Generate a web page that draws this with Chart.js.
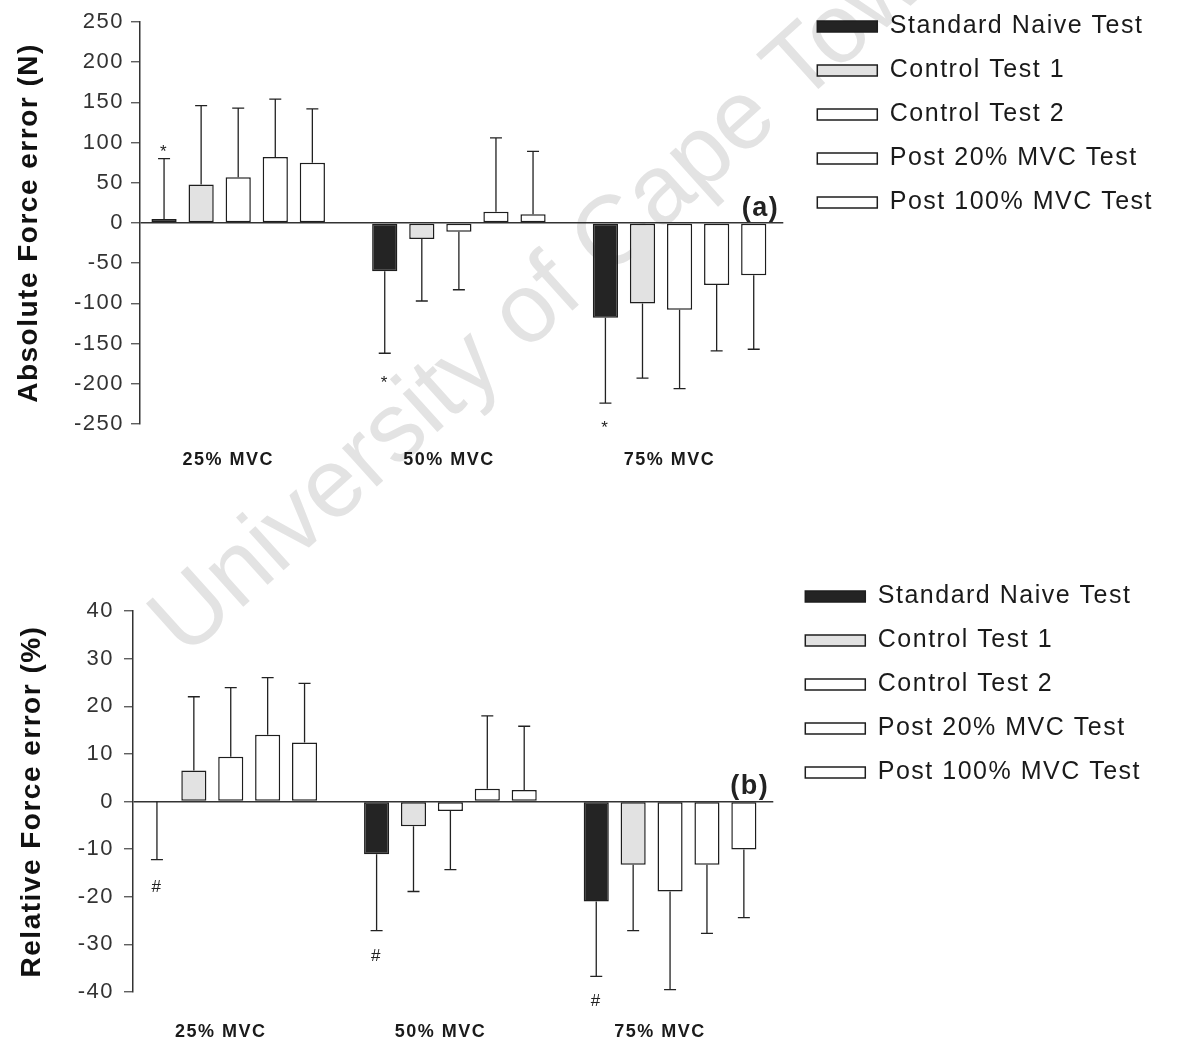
<!DOCTYPE html>
<html>
<head>
<meta charset="utf-8">
<script src="https://cdn.jsdelivr.net/npm/chart.js@4"></script>
<style>
  body { margin: 0; background: #fff; width: 1185px; height: 1037px; position: relative; overflow: hidden; }
  #wm {
    position: absolute; left: 130px; top: 597px;
    font-family: "Liberation Sans", Arial, sans-serif; font-size: 98px; line-height: 98px;
    color: #e3e3e3; white-space: nowrap;
    transform-origin: 0 0; transform: rotate(-42deg);
  }
  canvas { position: absolute; left: 0; }
  #chartA { top: -5px; }
  #chartB { top: 565px; }
</style>
</head>
<body>
<div id="wm">University of Cape Town</div>
<canvas id="chartA" width="1185" height="484"></canvas>
<canvas id="chartB" width="1185" height="472"></canvas>
<script>
const categories = ['25% MVC', '50% MVC', '75% MVC'];
const testNames = ['Standard Naive Test', 'Control Test 1', 'Control Test 2', 'Post 20% MVC Test', 'Post 100% MVC Test'];

// (a) absolute force error (N), mean per test
const absNaive = [5, -60, -118];
const absControl1 = [48, -20, -100];
const absControl2 = [57, -11, -108];
const absPost20 = [82, 14, -77];
const absPost100 = [75, 11, -65];
// (a) SD, drawn one-sided away from zero
const absNaiveSD = [75, 102, 106];
const absControl1SD = [98, 77, 93];
const absControl2SD = [86, 72, 98];
const absPost20SD = [72, 92, 82];
const absPost100SD = [67, 78, 92];

// (b) relative force error (%)
const relNaive = [0, -11.1, -21];
const relControl1 = [6.5, -5.2, -13.3];
const relControl2 = [9.4, -2, -18.9];
const relPost20 = [14, 2.7, -13.3];
const relPost100 = [12.4, 2.4, -10.1];
const relNaiveSD = [12.2, 16, 15.7];
const relControl1SD = [15.5, 13.7, 13.8];
const relControl2SD = [14.5, 12.3, 20.6];
const relPost20SD = [12, 15.3, 14.4];
const relPost100SD = [12.4, 13.4, 14.3];

// significance marks next to the naive bars (value where the symbol sits)
const starY = [88, -199, -255];
const hashY = [-18, -32.5, -42];

const fills = ['#242424', '#e2e2e2', '#ffffff', '#ffffff', '#ffffff'];
const FONT = '"Liberation Sans", Arial, Helvetica, sans-serif';

Chart.defaults.font.family = FONT;
Chart.defaults.color = '#222';

function buildDatasets(means, sds) {
  return means.map((vals, k) => ({
    label: testNames[k],
    data: vals.map((v, i) => ({ x: i, y: v })),
    sd: sds[k],
    backgroundColor: fills[k],
    borderColor: '#1e1e1e',
    borderWidth: 1.5,
    borderSkipped: false,
    categoryPercentage: 0.84,
    barPercentage: 0.68
  }));
}

// text in the figure is slightly letter-spaced
const spacing = {
  id: 'spacing',
  beforeUpdate(chart) { chart.ctx.letterSpacing = '1.5px'; },
  beforeDraw(chart) { chart.ctx.letterSpacing = '1.5px'; }
};

const errorBars = {
  id: 'errorBars',
  afterDatasetsDraw(chart) {
    const ctx = chart.ctx;
    const y = chart.scales.y;
    ctx.save();
    ctx.strokeStyle = '#222';
    ctx.lineWidth = 1.3;
    chart.data.datasets.forEach((ds, di) => {
      chart.getDatasetMeta(di).data.forEach((bar, i) => {
        const v = ds.data[i].y;
        const end = v > 0 ? v + ds.sd[i] : v - ds.sd[i];
        const yEnd = y.getPixelForValue(end);
        ctx.beginPath();
        ctx.moveTo(bar.x, bar.y);
        ctx.lineTo(bar.x, yEnd);
        ctx.moveTo(bar.x - 6, yEnd);
        ctx.lineTo(bar.x + 6, yEnd);
        ctx.stroke();
      });
    });
    ctx.restore();
  }
};

const marks = {
  id: 'marks',
  afterDraw(chart, args, o) {
    const { ctx, chartArea, scales: { y } } = chart;
    const meta = chart.getDatasetMeta(0);
    ctx.save();
    ctx.fillStyle = '#222';
    ctx.textAlign = 'center';
    ctx.textBaseline = 'middle';
    ctx.font = '17px ' + FONT;
    o.at.forEach((v, i) => ctx.fillText(o.sign, meta.data[i].x, y.getPixelForValue(v)));
    ctx.font = 'bold 27px ' + FONT;
    ctx.textAlign = 'right';
    ctx.textBaseline = 'bottom';
    ctx.fillText(o.tag, chartArea.right - 4, y.getPixelForValue(0) - 1);
    ctx.restore();
  }
};

function makeChart(id, p) {
  return new Chart(document.getElementById(id), {
    type: 'bar',
    data: { datasets: buildDatasets(p.means, p.sds) },
    options: {
      responsive: false,
      animation: false,
      events: [],
      layout: { padding: { left: 0, right: p.padRight, top: 0, bottom: 0 } },
      scales: {
        x: {
          type: 'linear', min: -0.445, max: 2.47, offset: false,
          afterBuildTicks: s => { s.ticks = categories.map((c, i) => ({ value: i })); },
          afterFit: s => { s.height = p.xHeight; },
          grid: { display: false },
          border: { display: false },
          ticks: {
            callback: v => categories[v],
            font: { size: 18, weight: 'bold' }, color: '#1a1a1a',
            padding: p.xPad, labelOffset: -10, maxRotation: 0, autoSkip: false
          }
        },
        top: {
          type: 'linear', position: 'top',
          afterFit: s => { s.height = p.topGap; },
          grid: { display: false }, border: { display: false }, ticks: { display: false }
        },
        y: {
          min: p.min, max: p.max,
          afterFit: s => { s.width = p.left; },
          ticks: { stepSize: p.step, font: { size: 22 }, color: '#333', padding: p.tickPad },
          grid: {
            color: c => (c.tick && c.tick.value === 0 ? '#333' : 'rgba(0,0,0,0)'),
            lineWidth: 1.5, tickLength: 9, tickColor: '#444', tickWidth: 1.2
          },
          border: { display: true, color: '#333', width: 1.5 },
          title: {
            display: true, text: p.title, color: '#111',
            font: { size: 28, weight: 'bold' }, padding: { top: p.titlePad, bottom: 0 }
          }
        },
        gap: {
          type: 'linear', position: 'right',
          afterFit: s => { s.width = p.rightGap; },
          grid: { display: false }, border: { display: false }, ticks: { display: false }
        }
      },
      plugins: {
        legend: {
          position: 'right', align: 'start', maxWidth: 420,
          labels: { boxWidth: 60, boxHeight: 11, padding: 19, color: '#1a1a1a', font: { size: 25 } }
        },
        tooltip: { enabled: false },
        marks: { sign: p.sign, at: p.marksAt, tag: p.tag }
      }
    },
    plugins: [spacing, errorBars, marks]
  });
}

makeChart('chartA', {
  means: [absNaive, absControl1, absControl2, absPost20, absPost100],
  sds: [absNaiveSD, absControl1SD, absControl2SD, absPost20SD, absPost100SD],
  min: -250, max: 250, step: 50,
  title: 'Absolute Force error (N)', titlePad: 12, tickPad: 7,
  left: 140, topGap: 27, xHeight: 55, xPad: 17, rightGap: 15, padRight: 22,
  sign: '*', marksAt: starY, tag: '(a)'
});

makeChart('chartB', {
  means: [relNaive, relControl1, relControl2, relPost20, relPost100],
  sds: [relNaiveSD, relControl1SD, relControl2SD, relPost20SD, relPost100SD],
  min: -40, max: 40, step: 10,
  title: 'Relative Force error (%)', titlePad: 15, tickPad: 10,
  left: 133, topGap: 46, xHeight: 45, xPad: 21, rightGap: 13, padRight: 34,
  sign: '#', marksAt: hashY, tag: '(b)'
});
</script>
</body>
</html>
